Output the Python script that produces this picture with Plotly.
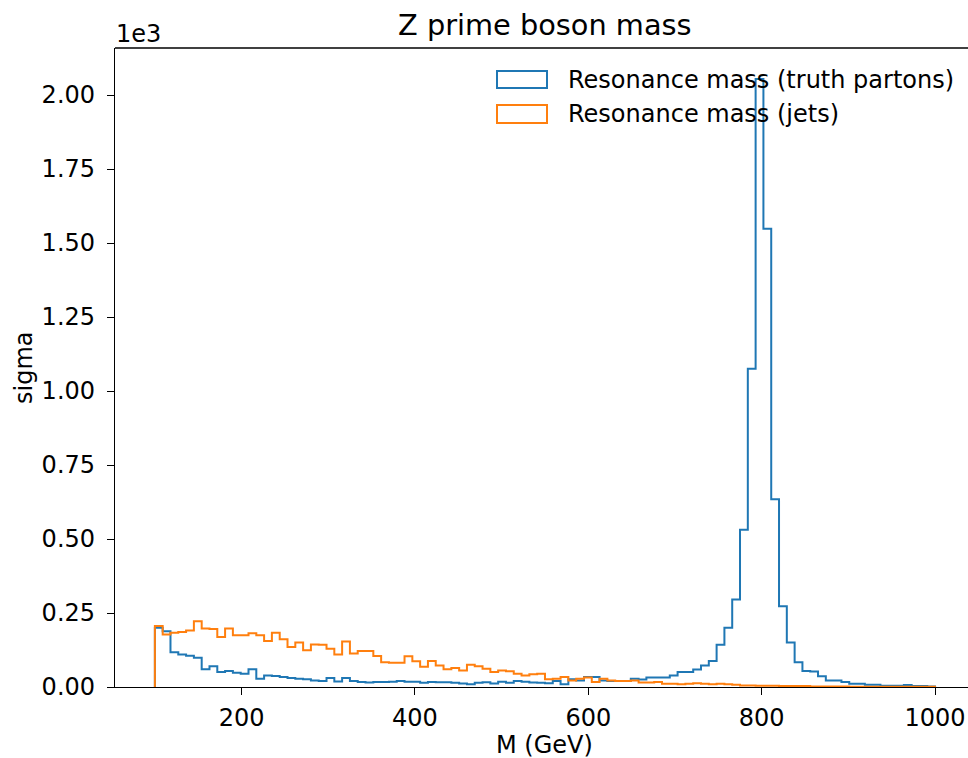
import numpy as np
import plotly.graph_objects as go

# ---- data ----
BIN_START = 100
BIN_END = 1000
N_BINS = 100

truth_partons = [
    200, 188, 117, 110, 106, 99, 60, 70, 51, 54,
    48, 45, 60, 28, 39, 37, 34, 30, 28, 26,
    22, 20, 30, 19, 30, 20, 17, 15, 17, 17,
    18, 20, 18, 18, 14, 17, 16, 16, 14, 12,
    9, 14, 16, 12, 18, 14, 20, 18, 15, 14,
    13, 20, 9, 26, 22, 34, 34, 22, 20, 20,
    20, 28, 25, 32, 32, 32, 39, 51, 51, 59,
    73, 88, 143, 200, 296, 531, 1075, 2054, 1548, 634,
    273, 150, 84, 54, 52, 36, 22, 22, 17, 11,
    11, 8, 8, 4, 4, 4, 7, 3, 3, 2,
]

jets = [
    206, 177, 183, 186, 191, 222, 198, 196, 169, 198,
    175, 175, 182, 175, 155, 183, 161, 135, 150, 124,
    144, 143, 129, 110, 154, 113, 122, 122, 105, 84,
    82, 82, 104, 87, 68, 88, 73, 60, 64, 56,
    75, 70, 62, 51, 56, 53, 45, 39, 43, 45,
    26, 28, 34, 22, 28, 32, 17, 28, 22, 20,
    20, 22, 15, 15, 17, 11, 11, 9, 11, 13,
    11, 9, 11, 9, 8, 5, 5, 4, 4, 4,
    3, 3, 3, 3, 2, 2, 2, 2, 2, 1,
    1, 1, 1, 1, 1, 1, 1, 1, 1, 1,
]

series_names = ["Resonance mass (truth partons)", "Resonance mass (jets)"]
series_colors = ["#1f77b4", "#ff7f0e"]

x_tickvals = [200, 400, 600, 800, 1000]
y_tickvals = [0, 250, 500, 750, 1000, 1250, 1500, 1750, 2000]
y_ticktext = ["0.00", "0.25", "0.50", "0.75", "1.00", "1.25", "1.50", "1.75", "2.00"]

title_text = "Z prime boson mass"
x_label = "M (GeV)"
y_label = "sigma"
offset_text = "1e3"

# ---- build figure ----
edges = np.linspace(BIN_START, BIN_END, N_BINS + 1)


def step_outline(counts):
    xs = [edges[0]] + list(edges[:-1]) + [edges[-1], edges[-1]]
    ys = [0] + list(counts) + [counts[-1], 0]
    return xs, ys


FONT = "DejaVu Sans"
FS = 24
fig = go.Figure()
for counts, name, color in zip([truth_partons, jets], series_names, series_colors):
    xs, ys = step_outline(counts)
    fig.add_trace(go.Scatter(
        x=xs, y=ys, mode="lines", name=name,
        line=dict(color=color, width=2, shape="hv"),
        showlegend=False, hoverinfo="skip",
    ))

W, H = 968, 758
ML, MR, MT, MB = 115, 0, 48, 71
PW, PH = W - ML - MR, H - MT - MB


def px_x(p):
    return (p - ML) / PW


def px_y(p):
    return (H - MB - p) / PH


axis_common = dict(
    showgrid=False, zeroline=False, showline=True, linecolor="black", linewidth=1.3,
    ticks="outside", ticklen=7, tickwidth=1.3, tickcolor="black",
    tickfont=dict(family=FONT, size=FS, color="black"),
)

fig.update_layout(
    width=W, height=H,
    margin=dict(l=ML, r=MR, t=MT, b=MB, pad=0),
    paper_bgcolor="white", plot_bgcolor="white",
    font=dict(family=FONT, color="black"),
    xaxis=dict(range=[54, 1038], tickvals=x_tickvals, ticklabelstandoff=2, **axis_common),
    yaxis=dict(range=[0, 2159], tickvals=y_tickvals, ticktext=y_ticktext,
               ticklabelstandoff=7, **axis_common),
    showlegend=False,
)

# top spine
fig.add_shape(type="line", xref="paper", yref="paper", x0=0, x1=1, y0=1, y1=1,
              line=dict(color="black", width=1.3))

# manual legend (outlined patches + labels)
rows = [(71, 88, 80), (105, 123, 114)]
for (y_top, y_bot, y_mid), name, color in zip(rows, series_names, series_colors):
    fig.add_shape(type="rect", xref="paper", yref="paper",
                  x0=px_x(497), x1=px_x(547), y0=px_y(y_bot), y1=px_y(y_top),
                  line=dict(color=color, width=2), fillcolor="rgba(0,0,0,0)")
    fig.add_annotation(text=name, xref="paper", yref="paper", x=px_x(566), y=px_y(y_mid),
                       xanchor="left", yanchor="middle", showarrow=False,
                       font=dict(family=FONT, size=FS, color="black"))

# title, axis labels, offset text
fig.add_annotation(text=title_text, xref="paper", yref="paper", x=px_x(544.5), y=px_y(25),
                   xanchor="center", yanchor="middle", showarrow=False,
                   font=dict(family=FONT, size=FS * 1.2, color="black"))
fig.add_annotation(text=x_label, xref="paper", yref="paper", x=px_x(544.5), y=px_y(745),
                   xanchor="center", yanchor="middle", showarrow=False,
                   font=dict(family=FONT, size=FS, color="black"))
fig.add_annotation(text=y_label, xref="paper", yref="paper", x=px_x(24), y=px_y(368),
                   xanchor="center", yanchor="middle", textangle=-90, showarrow=False,
                   font=dict(family=FONT, size=FS, color="black"))
fig.add_annotation(text=offset_text, xref="paper", yref="paper", x=px_x(114), y=px_y(34),
                   xanchor="left", yanchor="middle", showarrow=False,
                   font=dict(family=FONT, size=FS, color="black"))

fig.write_html(
    "out.html",
    config={"displayModeBar": False},
    post_script="document.body.style.margin='0';document.body.style.overflow='hidden';",
)
